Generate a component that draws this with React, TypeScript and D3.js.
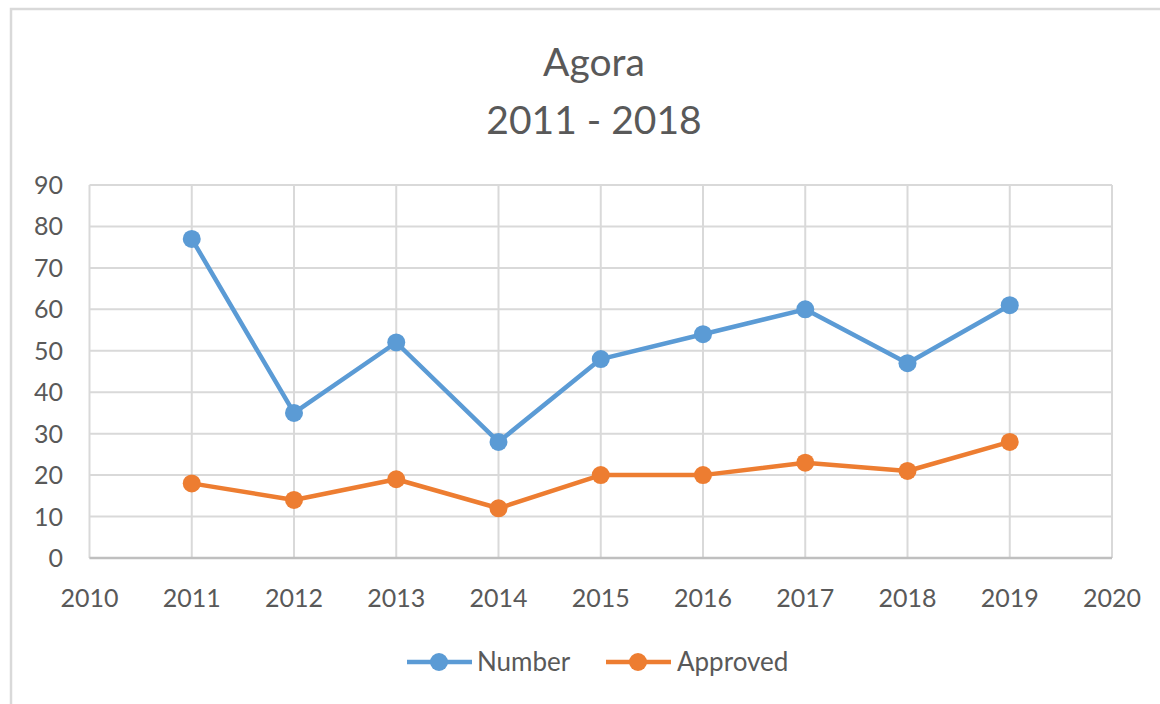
import * as d3 from "d3";

const years = [2011, 2012, 2013, 2014, 2015, 2016, 2017, 2018, 2019];
const numberValues = [77, 35, 52, 28, 48, 54, 60, 47, 61];
const approvedValues = [18, 14, 19, 12, 20, 20, 23, 21, 28];
const xTicks = [2010, 2011, 2012, 2013, 2014, 2015, 2016, 2017, 2018, 2019, 2020];
const yTicks = [0, 10, 20, 30, 40, 50, 60, 70, 80, 90];
const titleLines = ["Agora", "2011 - 2018"];

const series = [
  { name: "Number", values: numberValues, color: "#5B9BD5" },
  { name: "Approved", values: approvedValues, color: "#ED7D31" },
];

const W = 1160, H = 704;
const plot = { left: 89.5, right: 1112, top: 185, bottom: 558 };
const font = "Lato, 'Open Sans', sans-serif";
const textColor = "#595959";
const gridColor = "#D9D9D9";

export default function App() {
  const x = d3.scaleLinear().domain([2010, 2020]).range([plot.left, plot.right]);
  const y = d3.scaleLinear().domain([0, 90]).range([plot.bottom, plot.top]);
  const line = d3.line<number>()
    .x((_, i) => x(years[i]))
    .y(d => y(d));

  // legend entries: line start x, text start x
  const legend = [
    { lx: 407, tx: 477 },
    { lx: 606, tx: 677 },
  ];

  return (
    <svg width={W} height={H} style={{ position: "absolute", left: 0, top: 0, background: "#fff" }}
      fontFamily={font}>
      {/* chart frame */}
      <rect x={11} y={9} width={W + 20} height={H + 20} fill="#fff" stroke={gridColor} strokeWidth={2.5} />

      {titleLines.map((t, i) => (
        <text key={t} x={594} y={76 + i * 58} textAnchor="middle" fontSize={39} fill={textColor}>{t}</text>
      ))}

      {/* gridlines */}
      {yTicks.map(v => (
        <line key={"h" + v} x1={plot.left} x2={plot.right} y1={y(v)} y2={y(v)} stroke={gridColor} strokeWidth={2} />
      ))}
      {xTicks.map(v => (
        <line key={"v" + v} x1={x(v)} x2={x(v)} y1={plot.top} y2={plot.bottom} stroke={gridColor} strokeWidth={2} />
      ))}
      <line x1={plot.left} x2={plot.right} y1={plot.bottom} y2={plot.bottom} stroke="#BFBFBF" strokeWidth={2.5} />

      {/* tick labels */}
      {yTicks.map(v => (
        <text key={"yl" + v} x={63} y={y(v)} dy="0.36em" textAnchor="end" fontSize={25} fill={textColor}>{v}</text>
      ))}
      {xTicks.map(v => (
        <text key={"xl" + v} x={x(v)} y={607} textAnchor="middle" fontSize={25} fill={textColor}>{v}</text>
      ))}

      {/* series */}
      {series.map(s => (
        <g key={s.name}>
          <path d={line(s.values) || ""} fill="none" stroke={s.color} strokeWidth={4.5} strokeLinejoin="round" />
          {s.values.map((v, i) => (
            <circle key={i} cx={x(years[i])} cy={y(v)} r={9} fill={s.color} />
          ))}
        </g>
      ))}

      {/* legend */}
      {series.map((s, i) => (
        <g key={"lg" + s.name}>
          <line x1={legend[i].lx} x2={legend[i].lx + 65} y1={662} y2={662} stroke={s.color} strokeWidth={4.5} />
          <circle cx={legend[i].lx + 32} cy={662} r={9} fill={s.color} />
          <text x={legend[i].tx} y={662} dy="0.36em" fontSize={26} fill={textColor}>{s.name}</text>
        </g>
      ))}
    </svg>
  );
}
